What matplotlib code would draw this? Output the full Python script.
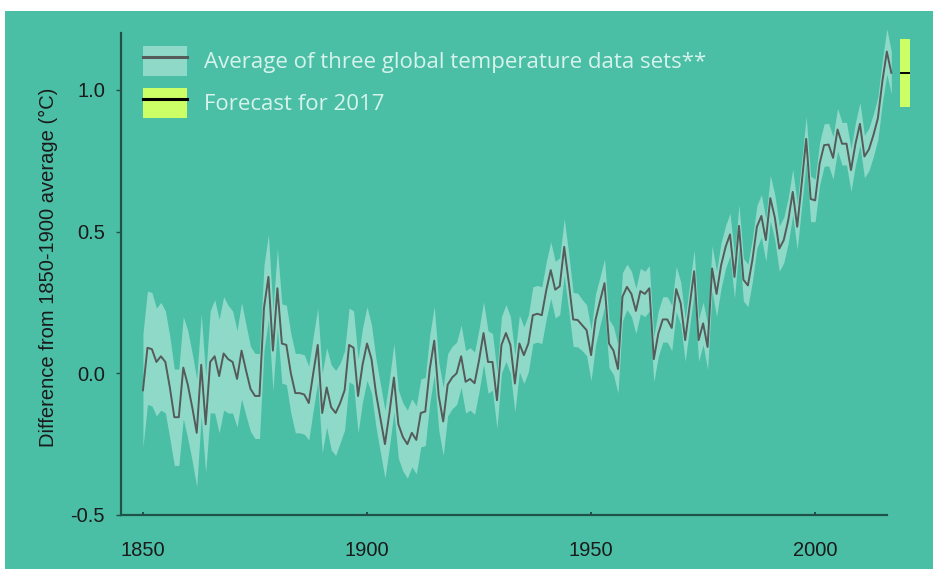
import numpy as np
import matplotlib
matplotlib.use("Agg")
import matplotlib.pyplot as plt
import matplotlib.patches as mpatches
from matplotlib.lines import Line2D
from matplotlib.legend_handler import HandlerTuple

# Annual global temperature difference from the 1850-1900 average (degC)
years = np.arange(1850, 2018)
anomaly = [
    -0.06, 0.09, 0.085, 0.04, 0.06, 0.04, -0.05, -0.155, -0.155, 0.02,      # 1850s
    -0.04, -0.12, -0.21, 0.03, -0.18, 0.04, 0.06, -0.01, 0.07, 0.05,        # 1860s
    0.04, -0.02, 0.08, 0.01, -0.055, -0.08, -0.08, 0.23, 0.34, 0.08,        # 1870s
    0.30, 0.105, 0.10, 0.0, -0.07, -0.07, -0.075, -0.105, 0.0, 0.10,        # 1880s
    -0.14, -0.05, -0.12, -0.14, -0.105, -0.06, 0.10, 0.09, -0.08, 0.03,     # 1890s
    0.105, 0.05, -0.07, -0.16, -0.25, -0.14, -0.015, -0.18, -0.225, -0.25,  # 1900s
    -0.21, -0.235, -0.14, -0.135, 0.015, 0.115, -0.08, -0.17, -0.04, -0.015,  # 1910s
    0.0, 0.06, -0.03, -0.02, -0.035, 0.046, 0.142, 0.04, 0.04, -0.095,     # 1920s
    0.10, 0.142, 0.10, -0.036, 0.105, 0.064, 0.105, 0.205, 0.21, 0.205,    # 1930s
    0.293, 0.364, 0.295, 0.307, 0.446, 0.323, 0.19, 0.188, 0.17, 0.152,    # 1940s
    0.064, 0.19, 0.255, 0.318, 0.105, 0.08, 0.015, 0.27, 0.305, 0.28,      # 1950s
    0.22, 0.29, 0.28, 0.30, 0.05, 0.14, 0.19, 0.19, 0.16, 0.297,           # 1960s
    0.247, 0.117, 0.24, 0.36, 0.117, 0.176, 0.093, 0.37, 0.28, 0.38,       # 1970s
    0.445, 0.49, 0.34, 0.52, 0.33, 0.31, 0.40, 0.517, 0.555, 0.47,         # 1980s
    0.618, 0.55, 0.44, 0.47, 0.54, 0.64, 0.517, 0.67, 0.827, 0.615,        # 1990s
    0.61, 0.74, 0.805, 0.807, 0.76, 0.86, 0.81, 0.81, 0.717, 0.81,         # 2000s
    0.88, 0.765, 0.79, 0.84, 0.90, 1.03, 1.135, 1.06,                      # 2010s
]
# Half-width of the shaded uncertainty range (degC)
spread = [
    0.20, 0.20, 0.20, 0.19, 0.19, 0.18, 0.18, 0.17, 0.17, 0.18,
    0.19, 0.19, 0.19, 0.18, 0.17, 0.18, 0.20, 0.20, 0.20, 0.19,
    0.18, 0.17, 0.17, 0.16, 0.15, 0.15, 0.15, 0.15, 0.15, 0.14,
    0.14, 0.14, 0.14, 0.14, 0.14, 0.14, 0.14, 0.13, 0.13, 0.13,
    0.14, 0.14, 0.15, 0.15, 0.14, 0.14, 0.13, 0.13, 0.13, 0.13,
    0.13, 0.12, 0.12, 0.12, 0.12, 0.12, 0.12, 0.12, 0.12, 0.12,
    0.12, 0.12, 0.12, 0.12, 0.12, 0.12, 0.12, 0.12, 0.11, 0.11,
    0.11, 0.11, 0.11, 0.11, 0.11, 0.11, 0.11, 0.11, 0.10, 0.10,
    0.10, 0.10, 0.10, 0.10, 0.10, 0.10, 0.10, 0.10, 0.10, 0.10,
    0.10, 0.10, 0.10, 0.10, 0.10, 0.10, 0.095, 0.095, 0.09, 0.09,
    0.09, 0.09, 0.085, 0.085, 0.085, 0.085, 0.085, 0.085, 0.08, 0.08,
    0.08, 0.08, 0.08, 0.08, 0.08, 0.08, 0.08, 0.08, 0.08, 0.08,
    0.075, 0.075, 0.075, 0.075, 0.075, 0.075, 0.08, 0.08, 0.08, 0.08,
    0.075, 0.075, 0.075, 0.075, 0.075, 0.075, 0.075, 0.075, 0.075, 0.075,
    0.08, 0.08, 0.08, 0.08, 0.08, 0.08, 0.08, 0.08, 0.08, 0.08,
    0.075, 0.075, 0.075, 0.075, 0.075, 0.075, 0.075, 0.075, 0.075, 0.075,
    0.075, 0.075, 0.075, 0.075, 0.075, 0.075, 0.08, 0.075,
]

# 2017 forecast: central value and range
forecast_mid = 1.06
forecast_low = 0.94
forecast_high = 1.18

x_ticks = [1850, 1900, 1950, 2000]
y_ticks = [-0.5, 0.0, 0.5, 1.0]
y_ticklabels = ["-0.5", "0.0", "0.5", "1.0"]

legend_labels = ["Average of three global temperature data sets**",
                 "Forecast for 2017"]

BG = "#4bbfa6"
BAND = "#8fd9c9"
LINE = "#545b59"
SPINE = "#1f5249"
LIME = "#ccff66"
LEGEND_TXT = "#d6f3ec"

anomaly = np.array(anomaly)
spread = np.array(spread)

W, H = 933, 572
fig = plt.figure(figsize=(W / 100, H / 100), dpi=100, facecolor="white")
# teal panel with a thin white margin round it
fig.patches.append(mpatches.Rectangle((5 / W, 3 / H), 1 - 5 / W, 1 - 14 / H,
                                      transform=fig.transFigure,
                                      facecolor=BG, edgecolor="none", zorder=-10))

ax = fig.add_axes([121 / W, 1 - 515 / H, 799 / W, (515 - 19) / H])
ax.set_zorder(1)
ax.set_facecolor("none")

ax.fill_between(years, anomaly - spread, anomaly + spread,
                color=BAND, linewidth=0, zorder=2)
ax.plot(years, anomaly, color=LINE, linewidth=1.4, zorder=3)

# forecast bar sits just right of the series
fx = 2020.0
ax.bar(fx, forecast_high - forecast_low, bottom=forecast_low, width=2.2,
       color=LIME, linewidth=0, zorder=3)
ax.hlines(forecast_mid, fx - 1.1, fx + 1.1, color="black", linewidth=1.4, zorder=4)

ax.set_xlim(1845.1, 2023.4)
ax.set_ylim(-0.5, 1.25)

for side in ("top", "right"):
    ax.spines[side].set_visible(False)
for side in ("left", "bottom"):
    ax.spines[side].set_color(SPINE)
    ax.spines[side].set_linewidth(1.6)
ax.spines["bottom"].set_bounds(1845.1, 2016.0)
ax.spines["left"].set_bounds(-0.5, 1.2)

tick_font = dict(family=["Liberation Sans", "DejaVu Sans"], size=14.5, color="#1a1a1a")
ax.set_xticks(x_ticks)
ax.set_xticklabels([str(t) for t in x_ticks], **tick_font)
ax.set_yticks(y_ticks)
ax.set_yticklabels(y_ticklabels, **tick_font)
ax.tick_params(axis="x", length=2.5, width=1.4, color=SPINE, direction="in", pad=19)
ax.tick_params(axis="y", length=3.5, width=1.0, color=SPINE, direction="out", pad=8)

ax.set_ylabel("Difference from 1850-1900 average (\u00b0C)",
              family=["Liberation Sans", "DejaVu Sans"], size=14.5,
              color="#1a1a1a", labelpad=9)

handles = [
    (mpatches.Patch(facecolor=BAND, edgecolor="none"),
     Line2D([], [], color=LINE, linewidth=2.2)),
    (mpatches.Patch(facecolor=LIME, edgecolor="none"),
     Line2D([], [], color="black", linewidth=2.2)),
]
leg = ax.legend(handles, legend_labels,
                handler_map={tuple: HandlerTuple(ndivide=1, pad=0)},
                loc="upper left", bbox_to_anchor=(143 / W, 1 - 46 / H),
                bbox_transform=fig.transFigure, frameon=False,
                borderpad=0, borderaxespad=0,
                prop=dict(family=["Open Sans", "DejaVu Sans"], size=16),
                handlelength=2.0, handleheight=1.7,
                handletextpad=0.75, labelspacing=0.55)
for t in leg.get_texts():
    t.set_color(LEGEND_TXT)

fig.savefig("out.png", dpi=100, facecolor="white")
